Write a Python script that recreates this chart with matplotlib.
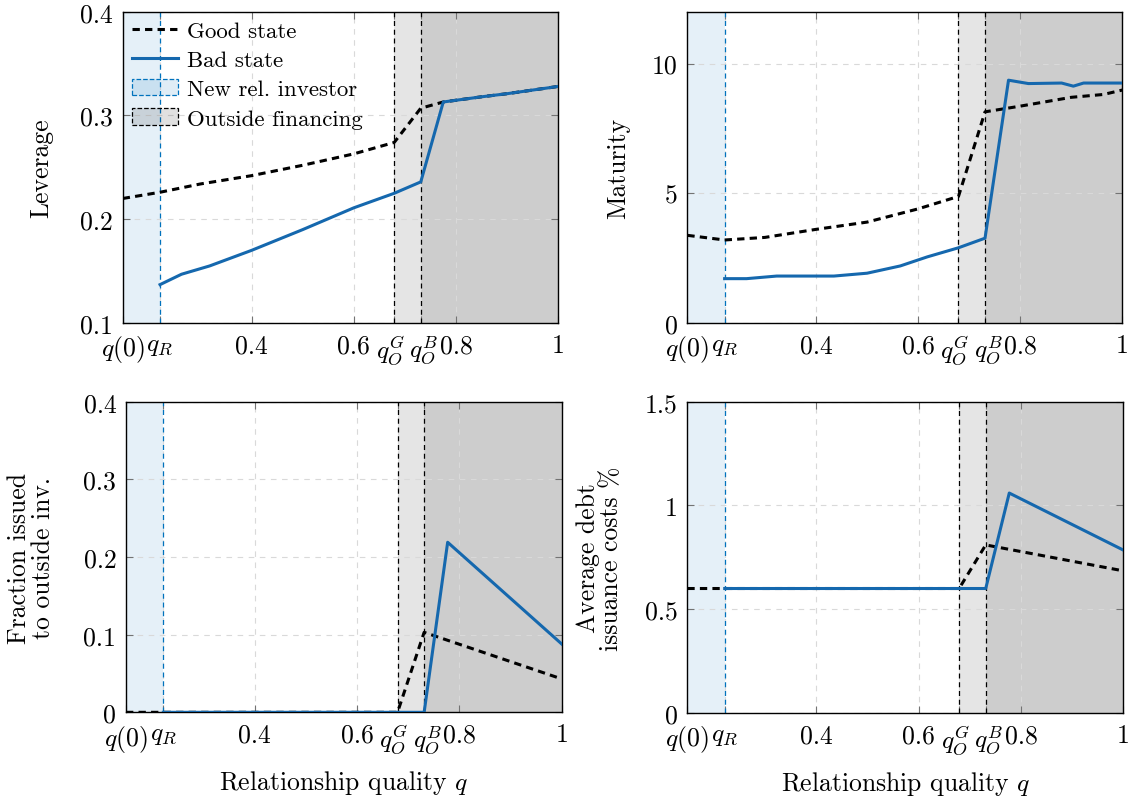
import matplotlib
matplotlib.use('Agg')
import matplotlib.pyplot as plt
import matplotlib.transforms as mtransforms
from matplotlib.lines import Line2D
from matplotlib.patches import Patch

# puntos de corte en q
q0, qR, qOG, qOB = 0.148, 0.221, 0.679, 0.731

# Leverage
lev_good_x = [0.148, 0.221, 0.3, 0.4, 0.5, 0.6, 0.679, 0.731, 0.775, 0.85, 0.9, 1.0]
lev_good_y = [0.220, 0.226, 0.234, 0.242, 0.252, 0.263, 0.274, 0.307, 0.313, 0.318, 0.321, 0.328]
lev_bad_x = [0.221, 0.263, 0.318, 0.4, 0.5, 0.6, 0.679, 0.731, 0.775, 0.85, 0.9, 1.0]
lev_bad_y = [0.137, 0.147, 0.155, 0.170, 0.190, 0.211, 0.225, 0.236, 0.313, 0.318, 0.321, 0.328]

# Maturity
mat_good_x = [0.148, 0.221, 0.3, 0.4, 0.5, 0.6, 0.679, 0.731, 0.8, 0.9, 0.963, 1.0]
mat_good_y = [3.38, 3.20, 3.30, 3.61, 3.89, 4.40, 4.88, 8.14, 8.36, 8.70, 8.81, 8.98]
mat_bad_x = [0.221, 0.264, 0.323, 0.435, 0.5, 0.565, 0.618, 0.679, 0.731, 0.777, 0.816, 0.881, 0.904, 0.924, 1.0]
mat_bad_y = [1.71, 1.71, 1.81, 1.81, 1.92, 2.20, 2.55, 2.90, 3.27, 9.36, 9.23, 9.25, 9.13, 9.25, 9.25]

# Fraction issued to outside investors
frac_good_x = [0.148, 0.679, 0.731, 1.0]
frac_good_y = [0.0, 0.0, 0.103, 0.043]
frac_bad_x = [0.221, 0.731, 0.777, 1.0]
frac_bad_y = [0.0, 0.0, 0.219, 0.088]

# Average debt issuance costs %
cost_good_x = [0.148, 0.679, 0.731, 1.0]
cost_good_y = [0.60, 0.60, 0.81, 0.685]
cost_bad_x = [0.221, 0.731, 0.777, 1.0]
cost_bad_y = [0.60, 0.60, 1.06, 0.785]

x_ticks = [q0, qR, 0.4, 0.6, qOG, qOB, 0.8, 1.0]
x_labels = ['$q(0)$', '$q_R$', '0.4', '0.6', '$q_O^G$', '$q_O^B$', '0.8', '1']

lev_ticks = [0.1, 0.2, 0.3, 0.4]
lev_labels = ['0.1', '0.2', '0.3', '0.4']
mat_ticks = [0, 5, 10]
mat_labels = ['0', '5', '10']
frac_ticks = [0, 0.1, 0.2, 0.3, 0.4]
frac_labels = ['0', '0.1', '0.2', '0.3', '0.4']
cost_ticks = [0, 0.5, 1, 1.5]
cost_labels = ['0', '0.5', '1', '1.5']

azul = '#1568ae'
azul_span = '#0072bd'

plt.rcParams['font.family'] = 'serif'
plt.rcParams['font.serif'] = ['cmr10']
plt.rcParams['mathtext.fontset'] = 'cm'
plt.rcParams['axes.formatter.use_mathtext'] = True
plt.rcParams['font.size'] = 18

fig = plt.figure(figsize=(11.32, 8.04), dpi=100)

def panel(rect, gx, gy, bx, by, yticks, ylabels, ylim, ylabel, lx, xlabel=False):
    ax = fig.add_axes(rect)
    # zonas sombreadas
    ax.axvspan(q0, qR, color=azul_span, alpha=0.1, lw=0)
    ax.axvspan(qOG, 1.0, color='black', alpha=0.1, lw=0)
    ax.axvspan(qOB, 1.0, color='black', alpha=0.1, lw=0)
    ax.axvline(qR, color=azul_span, ls=(0, (4, 3)), lw=0.9, zorder=2)
    ax.axvline(qOG, color='black', ls=(0, (4, 3)), lw=0.9, zorder=2)
    ax.axvline(qOB, color='black', ls=(0, (4, 3)), lw=0.9, zorder=2)
    # curvas
    ax.plot(gx, gy, color='black', lw=2.2, dashes=(2.4, 1.7), zorder=3)
    ax.plot(bx, by, color=azul, lw=2.2, zorder=4)
    ax.set_xlim(q0, 1.0)
    ax.set_ylim(*ylim)
    ax.set_xticks(x_ticks)
    ax.set_xticklabels(x_labels)
    ax.set_yticks(yticks)
    ax.set_yticklabels(ylabels)
    ax.grid(True, color='0.85', ls=(0, (5, 5)), lw=0.8)
    ax.tick_params(direction='in', top=True, right=True, length=5, width=0.8, color='0.45', labelsize=18.5)
    ax.tick_params(axis='x', pad=7.5)
    ax.tick_params(axis='y', pad=7)
    # separar un poco las etiquetas q_O^G y q_O^B
    labs = ax.get_xticklabels()
    labs[4].set_transform(labs[4].get_transform() + mtransforms.ScaledTranslation(-4/100, 0, fig.dpi_scale_trans))
    labs[5].set_transform(labs[5].get_transform() + mtransforms.ScaledTranslation(3/100, 0, fig.dpi_scale_trans))
    for s in ax.spines.values():
        s.set_linewidth(1.0)
    ax.set_ylabel(ylabel, fontsize=18.5, linespacing=1.0)
    ax.yaxis.set_label_coords(lx, 0.5)
    if xlabel:
        ax.set_xlabel('Relationship quality $q$', fontsize=18.5)
        ax.xaxis.set_label_coords(0.5, -0.18)
    return ax

ax1 = panel([0.1084, 0.597, 0.3848, 0.3872], lev_good_x, lev_good_y, lev_bad_x, lev_bad_y,
            lev_ticks, lev_labels, (0.1, 0.4), 'Leverage', -0.16)
ax2 = panel([0.6072, 0.597, 0.3843, 0.3872], mat_good_x, mat_good_y, mat_bad_x, mat_bad_y,
            mat_ticks, mat_labels, (0, 12), 'Maturity', -0.132)
ax3 = panel([0.1113, 0.1128, 0.3849, 0.3863], frac_good_x, frac_good_y, frac_bad_x, frac_bad_y,
            frac_ticks, frac_labels, (0, 0.4), 'Fraction issued\nto outside inv.', -0.163, xlabel=True)
ax4 = panel([0.6072, 0.1119, 0.3852, 0.3872], cost_good_x, cost_good_y, cost_bad_x, cost_bad_y,
            cost_ticks, cost_labels, (0, 1.5), 'Average debt\nissuance costs %', -0.147, xlabel=True)

handles = [
    Line2D([], [], color='black', lw=2.2, dashes=(2.4, 1.7)),
    Line2D([], [], color=azul, lw=2.2),
    Patch(facecolor=(0.0, 0.447, 0.741, 0.12), edgecolor=azul_span, ls='--', lw=0.9),
    Patch(facecolor=(0, 0, 0, 0.12), edgecolor='black', ls='--', lw=0.9),
]
ax1.legend(handles, ['Good state', 'Bad state', 'New rel. investor', 'Outside financing'],
           loc='upper left', frameon=False, fontsize=16.5, handlelength=2.0,
           handletextpad=0.4, labelspacing=0.4, borderaxespad=0.2, borderpad=0.2)

plt.savefig('out.png', dpi=100)
